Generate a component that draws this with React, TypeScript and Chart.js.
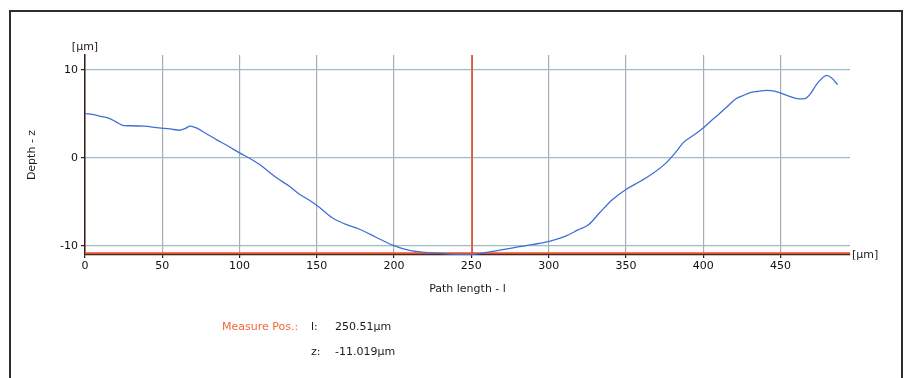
import React, { useEffect, useRef } from "react";
import { Chart, registerables } from "chart.js";

Chart.register(...registerables);

const pathLength: number[] = [
  0, 5, 10, 16, 20, 25, 30, 38, 48, 55, 61, 65, 68, 72, 78, 85, 92, 100, 107, 113,
  124, 132, 139, 145, 152, 160, 168, 178, 188, 199, 210, 220, 231, 240, 246, 250,
  255, 265, 277, 290, 301, 311, 319, 326, 333, 341, 350, 360, 368, 376, 382, 387,
  394, 400, 405, 411, 416, 421, 426, 430, 435, 441, 446, 449, 455, 462, 466, 469,
  474, 480, 483, 487,
];
const depth: number[] = [
  5.03, 4.95, 4.73, 4.47, 4.1, 3.67, 3.65, 3.6, 3.4, 3.3, 3.14, 3.35, 3.6, 3.4, 2.8,
  2.08, 1.4, 0.57, -0.1, -0.76, -2.27, -3.2, -4.17, -4.8, -5.68, -6.82, -7.5, -8.15,
  -9.0, -9.93, -10.53, -10.75, -10.88, -10.98, -11.0, -11.0, -10.9, -10.6, -10.23,
  -9.85, -9.47, -8.9, -8.2, -7.58, -6.25, -4.8, -3.6, -2.6, -1.7, -0.57, 0.6, 1.7,
  2.6, 3.4, 4.2, 5.1, 5.9, 6.7, 7.1, 7.39, 7.55, 7.68, 7.6, 7.45, 7.05, 6.7, 6.75,
  7.2, 8.5, 9.39, 9.1, 8.33,
];
const measureL = 250.51;
const measureZ = -11.019;
const xRange: number[] = [0, 495];
const yRange: number[] = [-11.05, 11.7];
const xTitle = "Path length - l";
const yTitle = "Depth - z";
const unit = "[µm]";

const FONT = "'DejaVu Sans', Verdana, sans-serif";

export default function App() {
  const ref = useRef<HTMLCanvasElement | null>(null);

  useEffect(() => {
    const canvas = ref.current;
    if (!canvas) return;
    const overlay = {
      id: "overlay",
      beforeDatasetsDraw(chart: any) {
        const ctx = chart.ctx;
        const xs = chart.scales.x;
        const ys = chart.scales.y;
        const area = chart.chartArea;
        ctx.save();
        ctx.strokeStyle = "#e8502c";
        ctx.lineWidth = 1.6;
        const mx = xs.getPixelForValue(measureL);
        ctx.beginPath();
        ctx.moveTo(mx, area.top);
        ctx.lineTo(mx, area.bottom);
        ctx.stroke();
        ctx.lineWidth = 1.8;
        const my = ys.getPixelForValue(measureZ) - 1.5;
        ctx.beginPath();
        ctx.moveTo(area.left, my);
        ctx.lineTo(area.right, my);
        ctx.stroke();
        ctx.restore();
      },
      afterDraw(chart: any) {
        const ctx = chart.ctx;
        const area = chart.chartArea;
        ctx.save();
        ctx.fillStyle = "#1a1a1a";
        ctx.font = `11px ${FONT}`;
        ctx.textBaseline = "middle";
        ctx.textAlign = "center";
        ctx.fillText(unit, area.left, 47);
        ctx.textAlign = "left";
        ctx.fillText(unit, area.right + 2, area.bottom);
        ctx.textAlign = "center";
        ctx.fillText(xTitle, (area.left + area.right) / 2, 289);
        ctx.translate(32, (area.top + area.bottom) / 2);
        ctx.rotate(-Math.PI / 2);
        ctx.fillText(yTitle, 0, 0);
        ctx.restore();
      },
    };

    const chart = new Chart(canvas, {
      type: "line",
      data: {
        datasets: [
          {
            data: pathLength.map((x, i) => ({ x, y: depth[i] })),
            borderColor: "#3f6fd6",
            borderWidth: 1.3,
            pointRadius: 0,
            cubicInterpolationMode: "monotone",
            fill: false,
          },
        ],
      },
      options: {
        animation: false,
        responsive: false,
        devicePixelRatio: 1,
        layout: { padding: { left: 0, top: 55, right: 59, bottom: 0 } },
        plugins: { legend: { display: false }, tooltip: { enabled: false } },
        scales: {
          x: {
            type: "linear",
            min: xRange[0],
            max: xRange[1],
            afterFit(scale: any) {
              scale.height = 123;
            },
            ticks: {
              stepSize: 50,
              includeBounds: false,
              color: "#111",
              font: { family: FONT, size: 11 },
              padding: 2,
              maxRotation: 0,
            },
            grid: {
              color: "#a3adb9",
              lineWidth: 1.2,
              tickColor: "#222",
              tickLength: 3,
            },
            border: { color: "#1a1a1a", width: 1.2 },
          },
          y: {
            type: "linear",
            min: yRange[0],
            max: yRange[1],
            afterFit(scale: any) {
              scale.width = 85;
            },
            ticks: {
              stepSize: 10,
              includeBounds: false,
              color: "#111",
              font: { family: FONT, size: 11 },
              padding: 3,
            },
            grid: {
              color: "#9dbccb",
              lineWidth: 1.2,
              tickColor: "#222",
              tickLength: 4,
            },
            border: { color: "#3a1c14", width: 1.5 },
          },
        },
      },
      plugins: [overlay],
    } as any);
    return () => chart.destroy();
  }, []);

  const txt: React.CSSProperties = {
    position: "absolute",
    fontFamily: FONT,
    fontSize: 11,
    lineHeight: "13px",
    color: "#1a1a1a",
    whiteSpace: "nowrap",
  };

  return (
    <div
      style={{
        position: "fixed",
        left: 0,
        top: 0,
        width: 909,
        height: 378,
        overflow: "hidden",
        background: "#fff",
      }}
    >
      <div
        style={{
          position: "absolute",
          left: 9,
          top: 10,
          width: 894,
          height: 420,
          boxSizing: "border-box",
          border: "2px solid #2e2e2e",
        }}
      />
      <canvas
        ref={ref}
        width={909}
        height={378}
        style={{ position: "absolute", left: 0, top: 0, width: 909, height: 378 }}
      />
      <span style={{ ...txt, left: 222, top: 320, color: "#f0683e" }}>Measure Pos.:</span>
      <span style={{ ...txt, left: 311, top: 320 }}>l:</span>
      <span style={{ ...txt, left: 335, top: 320 }}>{measureL.toFixed(2)}µm</span>
      <span style={{ ...txt, left: 311, top: 345 }}>z:</span>
      <span style={{ ...txt, left: 335, top: 345 }}>{measureZ.toFixed(3)}µm</span>
    </div>
  );
}
